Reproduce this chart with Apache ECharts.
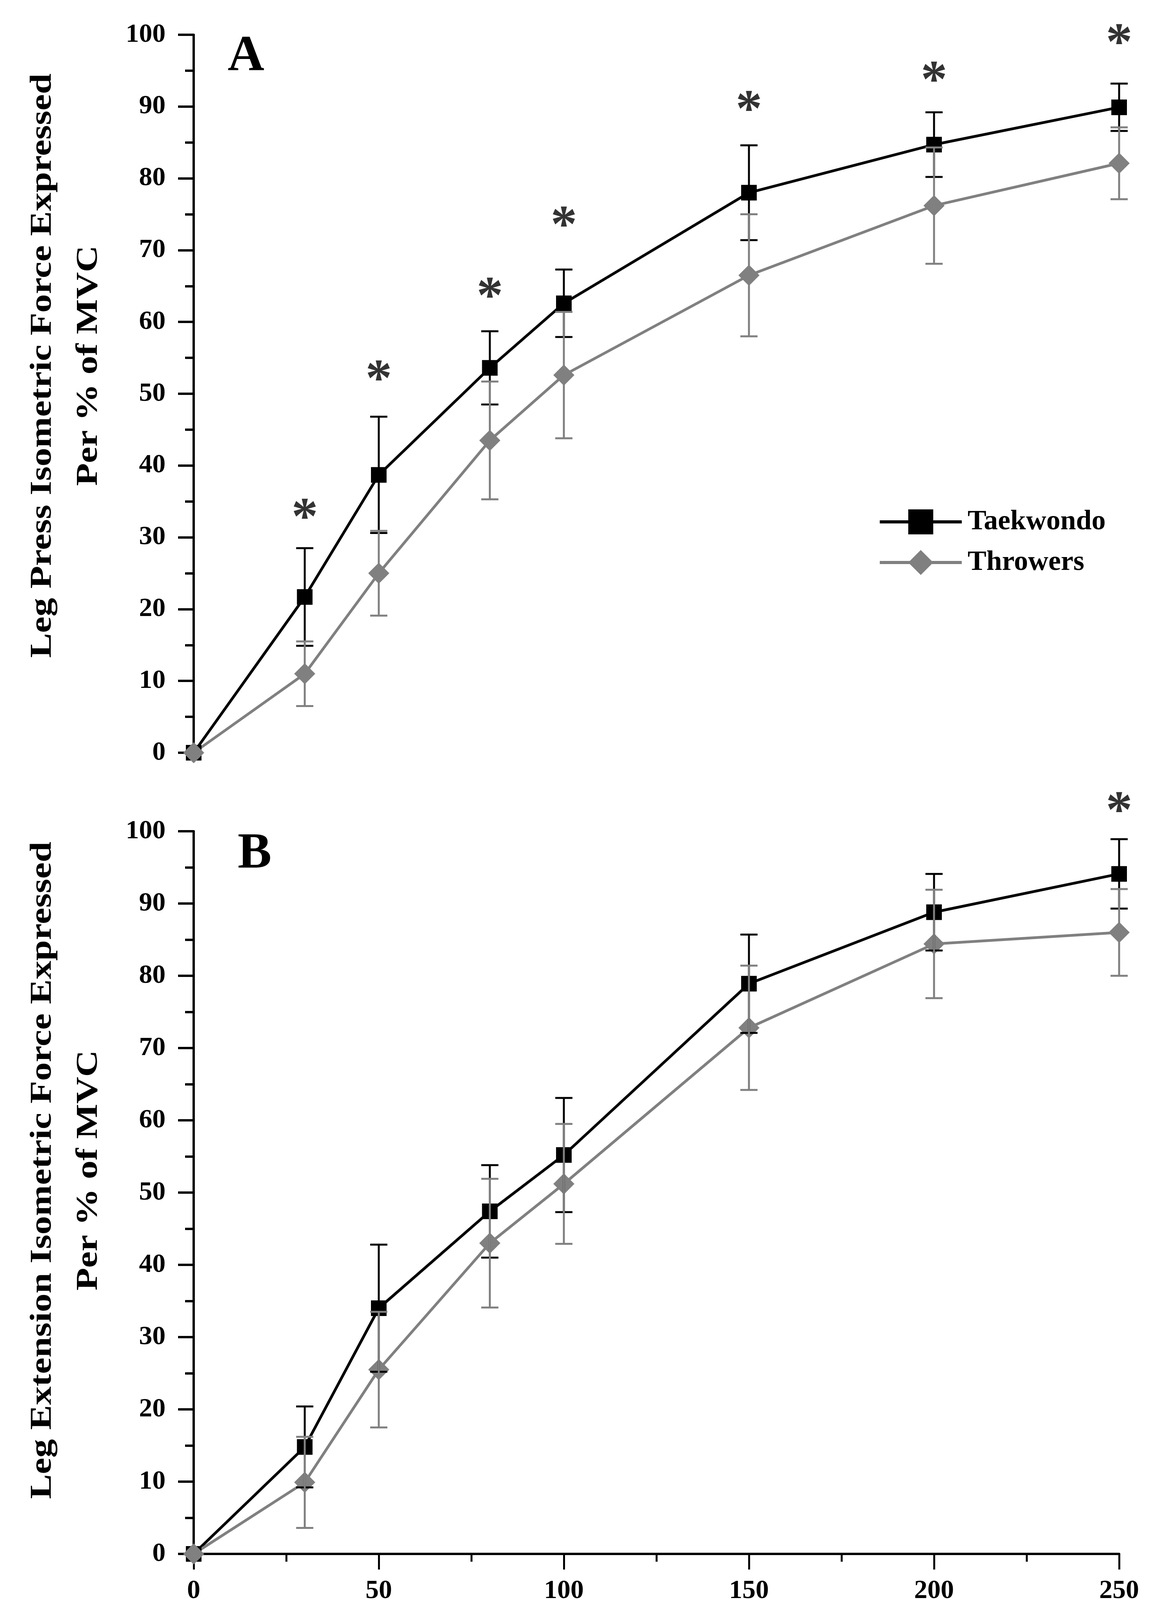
<!DOCTYPE html>
<html><head><meta charset="utf-8">
<script src="https://cdn.jsdelivr.net/npm/echarts@6/dist/echarts.min.js"></script>
<style>html,body{margin:0;padding:0;background:#fff}#c{width:2963px;height:4304px}</style>
</head><body><div id="c"></div>
<script>
// ---------- data ----------
const times = [0, 30, 50, 80, 100, 150, 200, 250];
const seriesNames = ['Taekwondo', 'Throwers'];
// Panel A: Leg press
const pressTaekwondo   = [0, 21.7, 38.7, 53.6, 62.6, 78.0, 84.7, 89.9];
const pressTaekwondoSD = [0, 6.8, 8.1, 5.1, 4.7, 6.6, 4.5, 3.3];
const pressThrowers    = [0, 11.0, 25.0, 43.5, 52.6, 66.5, 76.2, 82.1];
const pressThrowersSD  = [0, 4.5, 5.9, 8.2, 8.8, 8.5, 8.1, 5.0];
const pressSigTimes = [30, 50, 80, 100, 150, 200, 250];
const pressSigLevel = [33.5, 52.8, 64.3, 74.2, 90.3, 94.4, 99.6];
// Panel B: Leg extension
const extTaekwondo   = [0, 14.8, 34.0, 47.4, 55.2, 78.9, 88.8, 94.1];
const extTaekwondoSD = [0, 5.6, 8.8, 6.4, 7.9, 6.8, 5.3, 4.8];
const extThrowers    = [0, 9.9, 25.5, 43.0, 51.2, 72.8, 84.4, 86.0];
const extThrowersSD  = [0, 6.3, 8.0, 8.9, 8.3, 8.6, 7.5, 6.0];
const extSigTimes = [250];
const extSigLevel = [103.6];
// texts
const yTitleA = ['Leg Press Isometric Force Expressed', 'Per % of MVC'];
const yTitleB = ['Leg Extension Isometric Force Expressed', 'Per % of MVC'];
const xTitle = 'Time (ms)';
const panelLabels = ['A', 'B'];

// ---------- styles ----------
const FONT = '"Liberation Serif", "Times New Roman", serif';
const BLACK = '#000000';
const GRAY = '#808080';

function pairs(xs, ys) { return xs.map((x, i) => [x, ys[i]]); }

function lineSeries(name, idx, vals, color, symbol, size) {
  return {
    type: 'line', name: name, xAxisIndex: idx, yAxisIndex: idx,
    data: pairs(times, vals),
    symbol: symbol, symbolSize: size, showSymbol: true,
    lineStyle: { color: color, width: 7 },
    itemStyle: { color: color },
    z: 2, silent: true, clip: false
  };
}

function errorBars(name, idx, means, sds, color) {
  const d = [];
  times.forEach((t, i) => { if (sds[i] > 0) d.push([t, means[i] - sds[i], means[i] + sds[i]]); });
  return {
    type: 'custom', name: name + ' SD', xAxisIndex: idx, yAxisIndex: idx,
    data: d, z: 3, silent: true, clip: false,
    encode: { x: 0, y: [1, 2] },
    renderItem: function (params, api) {
      const x = api.value(0);
      const lo = api.coord([x, api.value(1)]);
      const hi = api.coord([x, api.value(2)]);
      const hw = 22;
      const st = { stroke: color, lineWidth: 5 };
      return { type: 'group', children: [
        { type: 'line', shape: { x1: lo[0], y1: lo[1], x2: hi[0], y2: hi[1] }, style: st },
        { type: 'line', shape: { x1: lo[0] - hw, y1: lo[1], x2: lo[0] + hw, y2: lo[1] }, style: st },
        { type: 'line', shape: { x1: hi[0] - hw, y1: hi[1], x2: hi[0] + hw, y2: hi[1] }, style: st }
      ]};
    }
  };
}

function sigSeries(idx, xs, ys) {
  return {
    type: 'scatter', name: 'sig', xAxisIndex: idx, yAxisIndex: idx,
    data: pairs(xs, ys), symbolSize: 1, clip: false, silent: true, z: 4,
    itemStyle: { color: 'rgba(0,0,0,0)' },
    label: { show: true, position: 'inside', formatter: '*', fontSize: 136, fontWeight: 'bold',
             fontFamily: FONT, color: BLACK, offset: [0, 20] }
  };
}

function yAxisCfg(idx) {
  return {
    type: 'value', gridIndex: idx, min: 0, max: 100, interval: 10,
    axisLine: { show: true, lineStyle: { color: BLACK, width: 6 } },
    axisTick: { show: true, inside: false, length: 40, lineStyle: { color: BLACK, width: 6 } },
    minorTick: { show: true, splitNumber: 2, length: 22, lineStyle: { color: BLACK, width: 6 } },
    splitLine: { show: false }, minorSplitLine: { show: false },
    axisLabel: { fontSize: 68, fontWeight: 'bold', fontFamily: FONT, color: BLACK, margin: 72 }
  };
}

function vText(text, x, y) {
  return { type: 'text', x: x, y: y, rotation: Math.PI / 2, scaleX: 1.22, silent: true,
    style: { text: text, font: 'bold 78px ' + FONT, fill: BLACK,
             align: 'center', verticalAlign: 'middle', textAlign: 'center', textVerticalAlign: 'middle' } };
}
function pText(text, x, y) {
  return { type: 'text', x: x, y: y, silent: true,
    style: { text: text, font: 'bold 130px ' + FONT, fill: BLACK,
             align: 'center', verticalAlign: 'middle', textAlign: 'center', textVerticalAlign: 'middle' } };
}

const option = {
  backgroundColor: '#ffffff',
  animation: false,
  grid: [
    { left: 496, top: 89, width: 2370, height: 1838 },
    { left: 496, top: 2128, width: 2370, height: 1850 }
  ],
  xAxis: [
    { type: 'value', gridIndex: 0, min: 0, max: 250, interval: 50, show: false },
    { type: 'value', gridIndex: 1, min: 0, max: 250, interval: 50,
      axisLine: { show: true, onZero: false, lineStyle: { color: BLACK, width: 6 } },
      axisTick: { show: true, length: 40, lineStyle: { color: BLACK, width: 5 } },
      minorTick: { show: true, splitNumber: 2, length: 20, lineStyle: { color: BLACK, width: 5 } },
      splitLine: { show: false }, minorSplitLine: { show: false },
      axisLabel: { fontSize: 68, fontWeight: 'bold', fontFamily: FONT, color: BLACK, margin: 61 },
      name: xTitle, nameLocation: 'middle', nameGap: 196,
      nameTextStyle: { fontSize: 88, fontWeight: 'bold', fontFamily: FONT, color: BLACK }
    }
  ],
  yAxis: [yAxisCfg(0), yAxisCfg(1)],
  legend: {
    data: seriesNames, orient: 'vertical', left: 2244, top: 1295,
    itemWidth: 210, itemHeight: 80, itemGap: 32, selectedMode: false,
    lineStyle: { width: 8 },
    textStyle: { fontSize: 72, fontWeight: 'bold', fontFamily: FONT, color: BLACK, padding: [0, 0, 0, 10] }
  },
  graphic: [
    vText(yTitleA[0], 110, 936), vText(yTitleA[1], 228, 936),
    vText(yTitleB[0], 110, 2996), vText(yTitleB[1], 228, 2996),
    pText(panelLabels[0], 630, 145), pText(panelLabels[1], 652, 2187)
  ],
  series: [
    lineSeries(seriesNames[0], 0, pressTaekwondo, BLACK, 'rect', 40),
    lineSeries(seriesNames[1], 0, pressThrowers, GRAY, 'diamond', 54),
    errorBars(seriesNames[0], 0, pressTaekwondo, pressTaekwondoSD, BLACK),
    errorBars(seriesNames[1], 0, pressThrowers, pressThrowersSD, GRAY),
    sigSeries(0, pressSigTimes, pressSigLevel),
    lineSeries(seriesNames[0], 1, extTaekwondo, BLACK, 'rect', 40),
    lineSeries(seriesNames[1], 1, extThrowers, GRAY, 'diamond', 54),
    errorBars(seriesNames[0], 1, extTaekwondo, extTaekwondoSD, BLACK),
    errorBars(seriesNames[1], 1, extThrowers, extThrowersSD, GRAY),
    sigSeries(1, extSigTimes, extSigLevel)
  ]
};

const chart = echarts.init(document.getElementById('c'), null, { renderer: 'canvas' });
chart.setOption(option);
</script>
</body></html>
